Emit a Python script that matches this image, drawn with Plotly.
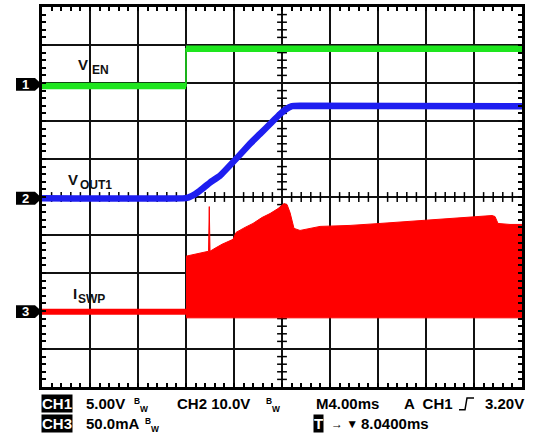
import plotly.graph_objects as go

# ---------------- data (time in ms, 4 ms/div, 10 div) ----------------
# CH1 V_EN (V), 5 V/div
ven_t = [0, 12.0, 12.0, 40]
ven_v = [-0.2, -0.2, 4.7, 4.7]

# CH2 V_OUT1 (V), 10 V/div
vout_t = [0, 12.0, 12.5, 13.17, 14.0, 14.83, 16.25, 17.33, 18.17, 19.0, 19.83, 20.33, 20.83, 21.5, 40]
vout_v = [0, 0, 0.6, 2.0, 4.1, 5.9, 10.6, 14.3, 16.9, 19.5, 22.1, 23.4, 24.2, 24.3, 24.2]

# CH3 I_SWP (mA), 50 mA/div
isw_base_t = [0, 12.0]
isw_base_i = [0, 0]
isw_hi_t = [12.0, 12.75, 13.58, 13.88, 13.94, 14.0, 14.42, 15.0, 15.92, 16.17, 16.92, 17.58,
            18.33, 19.0, 19.67, 20.17, 20.42, 20.67, 21.0, 21.5, 23.17, 25.67, 28.17, 30.67,
            33.17, 35.67, 37.5, 37.75, 38.0, 39.0, 40.0]
isw_hi_i = [73.1, 75.7, 78.3, 79.6, 138.4, 79.6, 83.6, 88.8, 95.3, 104.4, 111.0, 116.2,
            124.0, 129.2, 135.8, 142.3, 141.0, 130.5, 109.7, 107.0, 112.3, 113.6, 116.2, 118.8,
            121.4, 124.0, 126.6, 125.3, 116.2, 114.9, 114.9]
isw_lo_t = [12.0, 40.0]
isw_lo_i = [-8, -8]

# channel scale (units/div) and ground offset (div)
CH1_SCALE, CH1_OFF = 5.0, 7.96
CH2_SCALE, CH2_OFF = 10.0, 4.97
CH3_SCALE, CH3_OFF = 50.0, 1.98

def to_div(vals, scale, off):
    return [None if v is None else off + v / scale for v in vals]

GREEN = "#1ee61e"
BLUE = "#1e1ef0"
RED = "#ff0000"
FONT = "Liberation Sans, Arial, sans-serif"

W, H = 540, 440
L, R, T, B = 42, 18, 4, 53
PW, PH = W - L - R, H - T - B

def px(x):
    return (x - L) / PW

def py(y):
    return (H - B - y) / PH

fig = go.Figure()

# center-line tick marks (graticule decoration)
cx = [i * 0.8 for i in range(1, 50) if i % 5 != 0]
fig.add_trace(go.Scatter(x=cx, y=[5] * len(cx), mode="markers", hoverinfo="skip",
                         marker=dict(symbol="line-ns", size=7, line=dict(width=1.5, color="black"))))
cy = [i * 0.2 for i in range(1, 50) if i % 5 != 0]
fig.add_trace(go.Scatter(x=[20] * len(cy), y=cy, mode="markers", hoverinfo="skip",
                         marker=dict(symbol="line-ew", size=7, line=dict(width=1.5, color="black"))))

# CH3 current: baseline + switching envelope
poly_t = isw_hi_t + isw_lo_t[::-1]
poly_i = isw_hi_i + isw_lo_i[::-1]
fig.add_trace(go.Scatter(x=poly_t, y=to_div(poly_i, CH3_SCALE, CH3_OFF), mode="lines",
                         fill="toself", fillcolor=RED, line=dict(color=RED, width=1)))
fig.add_trace(go.Scatter(x=isw_base_t, y=to_div(isw_base_i, CH3_SCALE, CH3_OFF), mode="lines",
                         line=dict(color=RED, width=6)))

# CH1 V_EN
fig.add_trace(go.Scatter(x=ven_t, y=to_div(ven_v, CH1_SCALE, CH1_OFF), mode="lines",
                         line=dict(color=GREEN, width=1.5)))
fig.add_trace(go.Scatter(x=[ven_t[0], ven_t[1], None, ven_t[2], ven_t[3]],
                         y=to_div([ven_v[0], ven_v[1], None, ven_v[2], ven_v[3]], CH1_SCALE, CH1_OFF),
                         mode="lines", line=dict(color=GREEN, width=6.5)))

# CH2 V_OUT1
fig.add_trace(go.Scatter(x=vout_t, y=to_div(vout_v, CH2_SCALE, CH2_OFF), mode="lines",
                         line=dict(color=BLUE, width=6.5, shape="spline", smoothing=0.3)))

axis_common = dict(showgrid=True, gridcolor="#111111", gridwidth=1.5, zeroline=False,
                   showline=True, linecolor="black", linewidth=2.5, mirror="allticks",
                   ticks="inside", ticklen=4, tickcolor="black", tickwidth=1.5,
                   showticklabels=False, fixedrange=True)
fig.update_xaxes(range=[0, 40], tick0=0, dtick=4,
                 minor=dict(dtick=0.8, ticks="inside", ticklen=4, tickcolor="black",
                            tickwidth=1.5, showgrid=False), **axis_common)
fig.update_yaxes(range=[0, 10], tick0=0, dtick=1,
                 minor=dict(dtick=0.2, ticks="inside", ticklen=4, tickcolor="black",
                            tickwidth=1.5, showgrid=False), **axis_common)

shapes = []
annotations = []

def txt(x0, yc, s, size=15, color="black", bg=None, anchor="left"):
    d = dict(x=px(x0), y=py(yc), xref="paper", yref="paper", text=f"<b>{s}</b>", showarrow=False,
             xanchor=anchor, yanchor="middle",
             font=dict(family=FONT, size=size, color=color))
    if bg:
        d.update(bgcolor=bg, borderpad=0)
    annotations.append(d)

# channel markers on left
for num, cyp in (("1", 82), ("2", 196.7), ("3", 311)):
    pts = [(16, cyp - 6.5), (35, cyp - 6.5), (42, cyp), (35, cyp + 6.5), (16, cyp + 6.5)]
    path = "M " + " L ".join(f"{px(a):.5f},{py(b):.5f}" for a, b in pts) + " Z"
    shapes.append(dict(type="path", xref="paper", yref="paper", path=path,
                       fillcolor="black", line=dict(color="black", width=0)))
    txt(25.5, cyp, num, size=13, color="white", anchor="center")

# trace labels (main letter + subscript)
txt(76, 62, "V", size=15, color="#111111")
txt(89.5, 67.5, "EN", size=12, color="#111111")
txt(66, 177.7, "V", size=15, color="#111111")
txt(77.5, 183, "OUT1", size=12, color="#111111")
txt(71, 293, "I", size=15, color="#111111")
txt(75.5, 298, "SWP", size=12, color="#111111")

r1, r2 = 404, 424
txt(41, r1, "CH1", color="white", bg="black")
txt(84, r1, "5.00V")
txt(132, r1 + 1, "<sup>B</sup><sub>W</sub>", size=12)
txt(175, r1, "CH2 10.0V")
txt(264, r1 + 1, "<sup>B</sup><sub>W</sub>", size=12)
txt(314, r1, "M4.00ms")
txt(402, r1, "A  CH1")
txt(483, r1, "3.20V")
txt(41, r2, "CH3", color="white", bg="black")
txt(84, r2, "50.0mA")
txt(143, r2 + 1, "<sup>B</sup><sub>W</sub>", size=12)
txt(313, r2, "T", color="white", bg="black")
txt(329, r2, "\u2192 \u25bc", size=12)
txt(359, r2, "8.0400ms")

# trigger edge symbol
tp = [(459, 410), (465, 410), (467, 398), (474, 398)]
shapes.append(dict(type="path", xref="paper", yref="paper",
                   path="M " + " L ".join(f"{px(a):.5f},{py(b):.5f}" for a, b in tp),
                   line=dict(color="black", width=1.5)))

fig.update_layout(width=W, height=H, autosize=False,
                  margin=dict(l=L, r=R, t=T, b=B, pad=0),
                  paper_bgcolor="white", plot_bgcolor="white", showlegend=False,
                  shapes=shapes, annotations=annotations)

fig.write_html("out.html", config={"displayModeBar": False},
               post_script="document.body.style.margin='0';document.body.style.padding='0';")
